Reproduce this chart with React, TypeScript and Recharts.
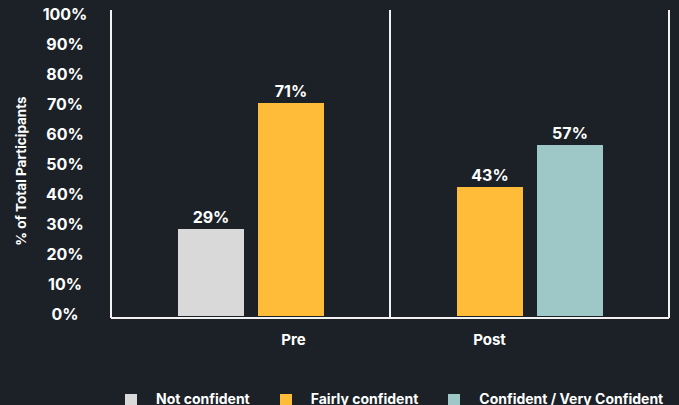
import React from 'react';
import { BarChart, Bar, XAxis, YAxis, Cell, LabelList, Legend, ReferenceLine } from 'recharts';

// ---- data ----
const categories = ['Pre', 'Post'];
const seriesNames = ['Not confident', 'Fairly confident', 'Confident / Very Confident'];
const notConfident: (number | null)[] = [29, null];
const fairlyConfident: (number | null)[] = [71, 43];
const confidentVeryConfident: (number | null)[] = [null, 57];
const yTicks = [0, 10, 20, 30, 40, 50, 60, 70, 80, 90, 100];

// ---- styles ----
const COLORS = ['#d9d9d9', '#ffbc38', '#9dc8c7'];
const BG = '#1c2128';
const FG = '#ffffff';
const FONT = 'Inter, "Noto Sans", sans-serif';
const LINE = '#f2f2f2';
const tickShift = [43, -40];

const seriesValues = [notConfident, fairlyConfident, confidentVeryConfident];

// each category shows only the series that have a value, in two bar slots
const data = categories.map((cat, i) => {
  const present = seriesValues
    .map((vals, s) => ({ v: vals[i], s }))
    .filter((p) => p.v !== null && p.v !== undefined);
  return {
    category: cat,
    first: present[0] ? present[0].v : null,
    firstSeries: present[0] ? present[0].s : 0,
    second: present[1] ? present[1].v : null,
    secondSeries: present[1] ? present[1].s : 0,
  };
});

const XTick = (props: any) => {
  const { x, y, payload, index } = props;
  return (
    <text
      x={x + (tickShift[index] || 0)}
      y={y}
      dy={19}
      textAnchor="middle"
      fill={FG}
      fontSize={15}
      fontWeight={700}
      fontFamily={FONT}
    >
      {payload.value}
    </text>
  );
};

const YLabel = (props: any) => {
  const vb = props.viewBox || {};
  const cx = vb.x + 20.5;
  const cy = vb.y + vb.height / 2 + 7;
  return (
    <text
      x={cx}
      y={cy}
      transform={`rotate(-90, ${cx}, ${cy})`}
      textAnchor="middle"
      dominantBaseline="central"
      fill={FG}
      fontSize={13.5}
      fontWeight={700}
      fontFamily={FONT}
    >
      % of Total Participants
    </text>
  );
};

const LegendContent = () => (
  <div
    style={{
      display: 'flex',
      alignItems: 'flex-start',
      paddingLeft: 125,
      height: 16,
      lineHeight: '16px',
      fontFamily: FONT,
      fontSize: 14,
      fontWeight: 700,
      color: FG,
      whiteSpace: 'nowrap',
    }}
  >
    {seriesNames.map((name, i) => (
      <div key={name} style={{ display: 'flex', alignItems: 'flex-start', marginRight: 30 }}>
        <div style={{ width: 12, height: 12, marginTop: 3, marginRight: 19, background: COLORS[i] }} />
        <span>{name}</span>
      </div>
    ))}
  </div>
);

export default function App() {
  return (
    <div style={{ position: 'absolute', left: 0, top: 0, width: 679, height: 405, background: BG, overflow: 'hidden' }}>
      <BarChart
        width={679}
        height={405}
        data={data}
        margin={{ top: 10, right: 10, left: 0, bottom: 41 }}
        barSize={66}
        barGap={14}
      >
        <XAxis
          dataKey="category"
          height={30}
          axisLine={{ stroke: LINE, strokeWidth: 2 }}
          tickLine={false}
          tick={<XTick />}
          interval={0}
        />
        <YAxis
          width={111}
          domain={[-0.667, 102]}
          allowDataOverflow
          ticks={yTicks}
          interval={0}
          axisLine={false}
          tickLine={false}
          tickMargin={40}
          tickFormatter={(v: number) => `${v}%`}
          tick={{ fill: FG, fontSize: 16, fontWeight: 700, fontFamily: FONT, textAnchor: 'middle', dy: -1.5 }}
          label={<YLabel />}
        />
        <ReferenceLine x={categories[0]} position="start" stroke={LINE} strokeWidth={2} />
        {categories.map((c) => (
          <ReferenceLine key={c} x={c} position="end" stroke={LINE} strokeWidth={2} />
        ))}
        <Bar dataKey="first" isAnimationActive={false}>
          {data.map((d) => (
            <Cell key={`f-${d.category}`} fill={COLORS[d.firstSeries]} />
          ))}
          <LabelList
            dataKey="first"
            position="top"
            offset={6}
            formatter={(v: any) => `${v}%`}
            fill={FG}
            fontSize={16}
            fontWeight={700}
            fontFamily={FONT}
          />
        </Bar>
        <Bar dataKey="second" isAnimationActive={false}>
          {data.map((d) => (
            <Cell key={`s-${d.category}`} fill={COLORS[d.secondSeries]} />
          ))}
          <LabelList
            dataKey="second"
            position="top"
            offset={6}
            formatter={(v: any) => `${v}%`}
            fill={FG}
            fontSize={16}
            fontWeight={700}
            fontFamily={FONT}
          />
        </Bar>
        <Legend
          verticalAlign="bottom"
          content={<LegendContent />}
          wrapperStyle={{ left: 0, bottom: -2, width: 679, height: 16 }}
        />
      </BarChart>
    </div>
  );
}
